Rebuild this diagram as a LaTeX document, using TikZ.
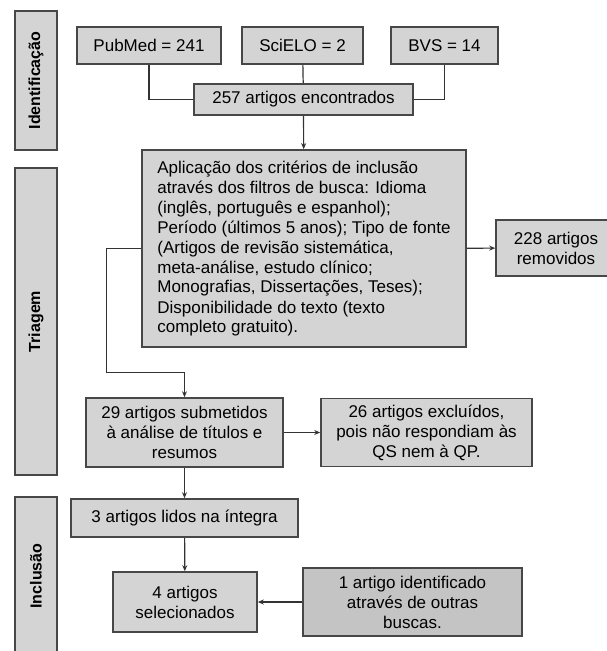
\documentclass[tikz,border=0pt]{standalone}
\usepackage{fontspec}
\setmainfont{Liberation Sans}
\usetikzlibrary{positioning}
\usetikzlibrary{calc}
\usetikzlibrary{arrows.meta}
\colorlet{box colour}{black!17}
\colorlet{other colour}{black!23}
\colorlet{edge colour}{black!72}
\colorlet{line colour}{black!80}
\tikzset{
    % Small filled heads, as in the flow chart
    >={Stealth[length=6pt, width=5pt]},
%
    % Fills and lines
    box fill/.style={fill=box colour},
    other fill/.style={fill=other colour},
    link/.style={color=line colour, line width=1.2pt},
    flow/.style={link, ->},
%
    % Text is centred unless said otherwise
    every node/.style={align=center, font=\fontsize{17}{20}\selectfont},
}

\begin{document}
\begin{tikzpicture}[
    box/.style={draw=edge colour, line width=1.6pt, box fill,
        inner sep=2pt, minimum height=37},
    phase/.style={draw=edge colour, line width=1.6pt, box fill,
        rotate=90, minimum height=42, inner sep=0,
        font=\bfseries\fontsize{16}{16}\selectfont},
    x=1pt, y=-1pt,
]

\useasboundingbox (0,0) rectangle (607,651);

% Phases on the left
\node [phase, minimum width=139] (identification) at (36,80.5) {Identificação};
\node [phase, minimum width=307] (screening) at (36,321.5) {Triagem};
\node [phase, minimum width=158] (inclusion) at (36,576) {Inclusão};

% Sources
\path
    (149,45.5) node (pubmed) [box, minimum width=144] {PubMed = 241}
    ++(153.5,0) node (scielo) [box, minimum width=121] {SciELO = 2}
    ++(142,0) node (bvs) [box, minimum width=107] {BVS = 14};
\node (found) [box, minimum width=219, minimum height=31] at (303.5,99.5)
    {257 artigos encontrados};

% Screening
\node (criteria) [box, align=left, minimum width=324, minimum height=197]
    at (304,248.5)
    {Aplicação dos critérios de inclusão\\
     através dos filtros de busca: Idioma\\
     (inglês, português e espanhol);\\
     Período (últimos 5 anos); Tipo de fonte\\
     (Artigos de revisão sistemática,\\
     meta-análise, estudo clínico;\\
     Monografias, Dissertações, Teses);\\
     Disponibilidade do texto (texto\\
     completo gratuito).};
\node (removed) [box, minimum width=120, minimum height=56] at (556,248)
    {228 artigos\\removidos};
\path
    (184.5,432.5) node (screened) [box, minimum width=197, minimum height=69]
        {29 artigos submetidos\\à análise de títulos e\\resumos}
    ++(242,0) node (excluded) [box, minimum width=211, minimum height=68]
        {26 artigos excluídos,\\pois não respondiam às\\QS nem à QP.};

% Inclusion
\node (fulltext) [box, minimum width=227, minimum height=38] at (184.5,518)
    {3 artigos lidos na íntegra};
\path
    (185,602) node (selected) [box, minimum width=144, minimum height=60]
        {4 artigos\\selecionados}
    ++(227.5,0) node (others) [box, other fill, minimum width=219, minimum height=68]
        {1 artigo identificado\\através de outras\\buscas.};

% Connectors
\draw [link] (pubmed) |- (found);
\draw [link] (scielo) -- (found);
\draw [link] (bvs) |- (found);
\draw [flow] (found) -- (criteria);
\draw [flow] (criteria) -- (removed);
\draw [flow] (criteria.west) -- ++(-35,0) -- ++(0,124) -| (screened.north);
\draw [flow] (screened) -- (excluded);
\draw [flow] (screened) -- (fulltext);
\draw [flow] (fulltext) -- (selected);
\draw [flow] (others) -- (selected);

\end{tikzpicture}
\end{document}
